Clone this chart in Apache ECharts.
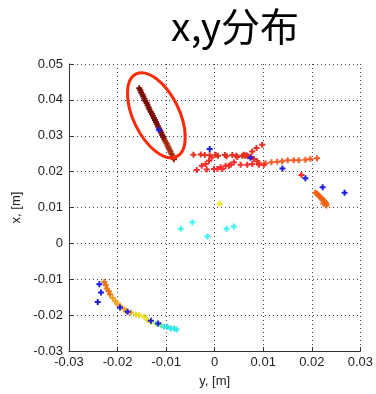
<!DOCTYPE html>
<html>
<head>
<meta charset="utf-8">
<style>
  html, body { margin: 0; padding: 0; background: #fff; }
  #chart { width: 376px; height: 394px; }
</style>
<script src="https://cdn.jsdelivr.net/npm/echarts@6/dist/echarts.min.js"></script>
</head>
<body>
<div id="chart"></div>
<script>
// Axis ticks (metres)
const xTicks = [-0.03, -0.02, -0.01, 0, 0.01, 0.02, 0.03];
const yTicks = [-0.03, -0.02, -0.01, 0, 0.01, 0.02, 0.03, 0.04, 0.05];

// Positions [y, x] in metres, grouped by track segment
const trackDark = [
  [-0.01554,0.04325],[-0.01532,0.04268],[-0.01515,0.04207],[-0.01488,0.04150],[-0.01470,0.04092],
  [-0.01447,0.04031],[-0.01428,0.03970],[-0.01402,0.03912],[-0.01383,0.03851],[-0.01360,0.03790],
  [-0.01342,0.03731],[-0.01318,0.03672],[-0.01293,0.03611],[-0.01273,0.03558],[-0.01251,0.03497],
  [-0.01230,0.03440],[-0.01209,0.03380],[-0.01190,0.03322],[-0.01168,0.03260],[-0.01142,0.03203],
  [-0.01121,0.03141],[-0.01100,0.03082],[-0.01079,0.03021],[-0.01061,0.02962]
];
const trackDarkEnd = [
  [-0.01040,0.02903],[-0.01018,0.02848],[-0.00992,0.02790],[-0.00973,0.02731],[-0.00951,0.02669],
  [-0.00929,0.02612],[-0.00908,0.02552],[-0.00889,0.02493],[-0.00868,0.02430],[-0.00845,0.02375],
  [-0.00838,0.02348]
];
const trackRedUpper = [
  [-0.00437,0.02472],[-0.00287,0.02480],[-0.00205,0.02466],[-0.00103,0.02455],[0.00021,0.02470],
  [0.00068,0.02440],[0.00211,0.02462],[0.00246,0.02430],[0.00363,0.02465],[0.00446,0.02440],
  [0.00466,0.02410],[0.00569,0.02445],[0.00602,0.02470],[0.00622,0.02440],[0.00657,0.02455],
  [0.00684,0.02430],[0.00774,0.02564],[0.00862,0.02659],[0.00979,0.02750],[0.00739,0.02417],
  [0.00807,0.02353],[0.00877,0.02286],[0.00909,0.02231]
];
const trackRedLower = [
  [-0.00370,0.02047],[-0.00267,0.02167],[-0.00185,0.02214],[-0.00164,0.02056],[-0.00117,0.02306],
  [-0.00062,0.02397],[-0.00014,0.02075],[0.00055,0.02075],[0.00123,0.02120],[0.00158,0.02075],
  [0.00226,0.02167],[0.00294,0.02167],[0.00328,0.02195],[0.00396,0.02259],[0.00534,0.02195],
  [0.00671,0.02195],[0.00774,0.02214],[0.00909,0.02195],[0.01012,0.02195],[0.01786,0.01908]
];
const trackRedTail = [
  [0.01047,0.02231],[0.01170,0.02259],[0.01287,0.02278],[0.01390,0.02286],[0.01505,0.02314],
  [0.01628,0.02314],[0.01731,0.02314],[0.01868,0.02334],[0.01971,0.02353],[0.02108,0.02370]
];
const trackOrange = [
  [0.02074,0.01408],[0.02108,0.01381],[0.02129,0.01353],[0.02156,0.01314],[0.02176,0.01286],
  [0.02197,0.01258],[0.02223,0.01222],[0.02244,0.01195],[0.02264,0.01167],[0.02279,0.01131],
  [0.02299,0.01103],[0.02299,0.01056],[0.02238,0.01111]
];
const trackYellowLone = [[0.00103,0.01103]];
const trackCyanLone = [
  [-0.00698,0.00408],[-0.00458,0.00592],[-0.00150,0.00194],[0.00246,0.00408],[0.00396,0.00472]
];
const trailOrange = [
  [-0.02273,-0.01075],[-0.02238,-0.01167],[-0.02223,-0.01258],[-0.02182,-0.01333],[-0.02156,-0.01417]
];
const trailAmber = [
  [-0.02100,-0.01520],[-0.02047,-0.01611],[-0.01998,-0.01703],[-0.01950,-0.01742],[-0.01862,-0.01833],
  [-0.01827,-0.01889],[-0.01725,-0.01925]
];
const trailYellow = [
  [-0.01622,-0.01981],[-0.01554,-0.02000],[-0.01451,-0.02047],[-0.01382,-0.02139],[-0.01314,-0.02186]
];
const trailGreen = [
  [-0.01211,-0.02231],[-0.01109,-0.02278]
];
const trailCyan = [
  [-0.01041,-0.02325],[-0.00971,-0.02325],[-0.00903,-0.02370],[-0.00836,-0.02370],[-0.00786,-0.02398]
];
const pointsBlue = [
  [-0.01150,0.03167],[-0.00103,0.02631],[0.00739,0.02389],[0.01396,0.02084],[0.01868,0.01814],
  [0.02223,0.01564],[0.02675,0.01408],[-0.02375,-0.01139],[-0.02340,-0.01370],[-0.02408,-0.01631],
  [-0.01950,-0.01786],[-0.01792,-0.01908],[-0.01314,-0.02159],[-0.01164,-0.02231]
];

// Highlighted region: centre in data units
const markCentre = [-0.01201, 0.03570];

const plus = 'path://M2,0H4V2H6V4H4V6H2V4H0V2H2Z';
const font = '"Liberation Sans", Arial, sans-serif';

function plusSeries(data, color) {
  return {
    type: 'scatter',
    data: data,
    symbol: plus,
    symbolSize: 6,
    itemStyle: { color: color, opacity: 1 },
    emphasis: { disabled: true },
    silent: true,
    animation: false
  };
}

const chart = echarts.init(document.getElementById('chart'), null, { renderer: 'canvas' });

const fmt = v => String(+v.toFixed(2));

chart.setOption({
  animation: false,
  backgroundColor: '#fff',
  title: {
    text: 'x,y分布',
    left: 230,
    top: 2,
    textAlign: 'center',
    textStyle: {
      fontFamily: '"Noto Sans CJK SC", sans-serif',
      fontSize: 39,
      fontWeight: 'normal',
      color: '#000'
    }
  },
  grid: { left: 69, right: 15, top: 64, bottom: 43, containLabel: false },
  xAxis: {
    type: 'value',
    min: xTicks[0], max: xTicks[xTicks.length - 1], interval: 0.01,
    name: 'y, [m]',
    nameLocation: 'middle',
    nameGap: 24,
    nameTextStyle: { fontFamily: font, fontSize: 13, color: '#222' },
    axisLine: { show: true, onZero: false, lineStyle: { color: '#333', width: 1 } },
    axisTick: { show: true, inside: true, length: 4, lineStyle: { color: '#333' } },
    axisLabel: { formatter: fmt, fontFamily: font, fontSize: 13, color: '#222', margin: 5 },
    splitLine: { show: true, lineStyle: { color: '#444', type: [1, 3], width: 1 } }
  },
  yAxis: {
    type: 'value',
    min: yTicks[0], max: yTicks[yTicks.length - 1], interval: 0.01,
    name: 'x, [m]',
    nameLocation: 'middle',
    nameRotate: 90,
    nameGap: 46,
    nameTextStyle: { fontFamily: font, fontSize: 13, color: '#222' },
    axisLine: { show: true, onZero: false, lineStyle: { color: '#333', width: 1 } },
    axisTick: { show: true, inside: true, length: 4, lineStyle: { color: '#333' } },
    axisLabel: { formatter: fmt, fontFamily: font, fontSize: 13, color: '#222', margin: 6 },
    splitLine: { show: true, lineStyle: { color: '#444', type: [1, 3], width: 1 } }
  },
  series: [
    plusSeries(trailOrange, '#ef7414'),
    plusSeries(trailAmber, '#f4a01c'),
    plusSeries(trailYellow, '#e8dc1c'),
    plusSeries(trailGreen, '#8cf07a'),
    plusSeries(trailCyan, '#2ee8e8'),
    plusSeries(trackCyanLone, '#3cf4f4'),
    plusSeries(trackYellowLone, '#f0e628'),
    plusSeries(trackOrange, '#ec6412'),
    plusSeries(trackRedTail, '#f25a26'),
    plusSeries(trackRedLower, '#ff2c2c'),
    plusSeries(trackRedUpper, '#e4301e'),
    plusSeries(trackDarkEnd, '#a42a0c'),
    plusSeries(trackDark, '#7c0a04'),
    plusSeries(pointsBlue, '#1e1ee6')
  ]
});

// Red outline drawn around the dark track
const c = chart.convertToPixel({ gridIndex: 0 }, markCentre);
chart.setOption({
  graphic: [{
    type: 'ellipse',
    x: c[0], y: c[1],
    rotation: 26 * Math.PI / 180,
    shape: { cx: 0, cy: 0, rx: 23, ry: 46 },
    style: { fill: 'none', stroke: '#ff2a0a', lineWidth: 3 },
    silent: true,
    z: 10
  }]
});
</script>
</body>
</html>
